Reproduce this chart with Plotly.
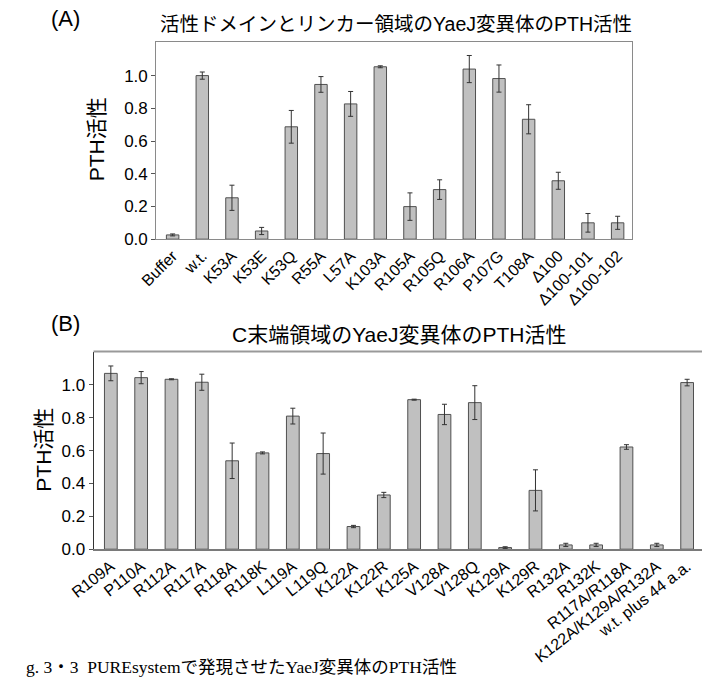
import plotly.graph_objects as go

W, H = 702, 688

cats_a = ["Buffer", "w.t.", "K53A", "K53E", "K53Q", "R55A", "L57A", "K103A",
          "R105A", "R105Q", "R106A", "P107G", "T108A", "Δ100", "Δ100-101", "Δ100-102"]
vals_a = [0.026, 1.000, 0.253, 0.050, 0.687, 0.946, 0.827, 1.054,
          0.199, 0.303, 1.040, 0.982, 0.733, 0.357, 0.100, 0.100]
err_a = [0.006, 0.022, 0.077, 0.022, 0.100, 0.048, 0.076, 0.006,
         0.084, 0.060, 0.083, 0.083, 0.089, 0.052, 0.057, 0.040]

cats_b = ["R109A", "P110A", "R112A", "R117A", "R118A", "R118K", "L119A", "L119Q",
          "K122A", "K122R", "K125A", "V128A", "V128Q", "K129A", "K129R", "R132A",
          "R132K", "R117A/R118A", "K122A/K129A/R132A", "w.t. plus 44 a.a."]
vals_b = [1.070, 1.044, 1.034, 1.016, 0.538, 0.586, 0.810, 0.582,
          0.138, 0.330, 0.910, 0.820, 0.892, 0.010, 0.358, 0.026,
          0.026, 0.622, 0.026, 1.014]
err_b = [0.045, 0.037, 0.003, 0.049, 0.108, 0.006, 0.048, 0.125,
         0.007, 0.016, 0.003, 0.062, 0.103, 0.005, 0.125, 0.010,
         0.010, 0.014, 0.010, 0.020]

y_ticks = [0.0, 0.2, 0.4, 0.6, 0.8, 1.0]

title_a = "活性ドメインとリンカー領域のYaeJ変異体のPTH活性"
title_b = "C末端領域のYaeJ変異体のPTH活性"
ytitle = "PTH活性"
caption = "g. 3・3  PUREsystemで発現させたYaeJ変異体のPTH活性"

SANS = "Liberation Sans, Arial, Noto Sans CJK JP, sans-serif"
SERIF = "Liberation Serif, DejaVu Serif, Noto Sans CJK JP, serif"

def px(x):
    return x / W

def py(y):
    return 1 - y / H

bar_style = dict(marker=dict(color="#c0c0c0", line=dict(color="#505050", width=1)),
                 width=0.42, showlegend=False, hoverinfo="x+y")
err_style = dict(type="data", color="#333333", thickness=1, width=2.5, visible=True)

fig = go.Figure()
fig.add_trace(go.Bar(x=cats_a, y=vals_a, error_y=dict(array=err_a, **err_style),
                     xaxis="x", yaxis="y", **bar_style))
fig.add_trace(go.Bar(x=cats_b, y=vals_b, error_y=dict(array=err_b, **err_style),
                     xaxis="x2", yaxis="y2", **bar_style))

fig.update_layout(
    width=W, height=H,
    margin=dict(l=0, r=0, t=0, b=0),
    paper_bgcolor="white", plot_bgcolor="white",
    font=dict(family=SANS, color="black"),
    xaxis=dict(domain=[px(137), px(630)], anchor="y", type="category",
               range=[-0.55, 15.5], showline=True, mirror=True,
               linecolor="#8a8a8a", linewidth=1.3, ticks="", tickangle=-45,
               tickfont=dict(size=16, family=SANS), showgrid=False),
    yaxis=dict(domain=[py(242.7), py(42.7)], anchor="x", range=[0, 1.205],
               tickvals=y_ticks, tickformat=".1f", showline=True, mirror=True,
               linecolor="#8a8a8a", linewidth=1.3, ticks="outside", ticklen=4,
               tickcolor="#555", tickfont=dict(size=17, family=SANS),
               showgrid=False, zeroline=False),
    xaxis2=dict(domain=[px(72), 1.0], anchor="y2", type="category",
                range=[-0.57, 19.49], showline=True, mirror=False,
                linecolor="#7a7a7a", linewidth=1.5, ticks="", tickangle=-38,
                tickfont=dict(size=16, family=SANS), showgrid=False),
    yaxis2=dict(domain=[py(557.3), py(356.7)], anchor="x2", range=[0, 1.203],
                tickvals=y_ticks, tickformat=".1f", showline=True, mirror=False,
                linecolor="#333333", linewidth=1, ticks="outside", ticklen=4,
                tickcolor="#555", tickfont=dict(size=17, family=SANS),
                showgrid=False, zeroline=False),
)

# top border of panel B
fig.add_shape(type="line", xref="x2 domain", yref="y2 domain", x0=0, x1=1, y0=1, y1=1,
              line=dict(color="#999999", width=2.2))

ann = [
    dict(text="(A)", x=px(43), y=py(19), font=dict(size=22)),
    dict(text=title_a, x=px(385), y=py(24), font=dict(size=19.5)),
    dict(text=ytitle, x=px(76), y=py(141), font=dict(size=21), textangle=-90),
    dict(text="(B)", x=px(43), y=py(328), font=dict(size=22)),
    dict(text=title_b, x=px(388), y=py(339), font=dict(size=21)),
    dict(text=ytitle, x=px(20), y=py(456), font=dict(size=21), textangle=-90),
]
for a in ann:
    fig.add_annotation(xref="paper", yref="paper", showarrow=False,
                       xanchor="center", yanchor="middle", **a)
fig.add_annotation(xref="paper", yref="paper", showarrow=False, text=caption,
                   x=0, y=py(677), xanchor="left", yanchor="middle",
                   font=dict(size=17.5, family=SERIF))

fig.write_html("out.html")
